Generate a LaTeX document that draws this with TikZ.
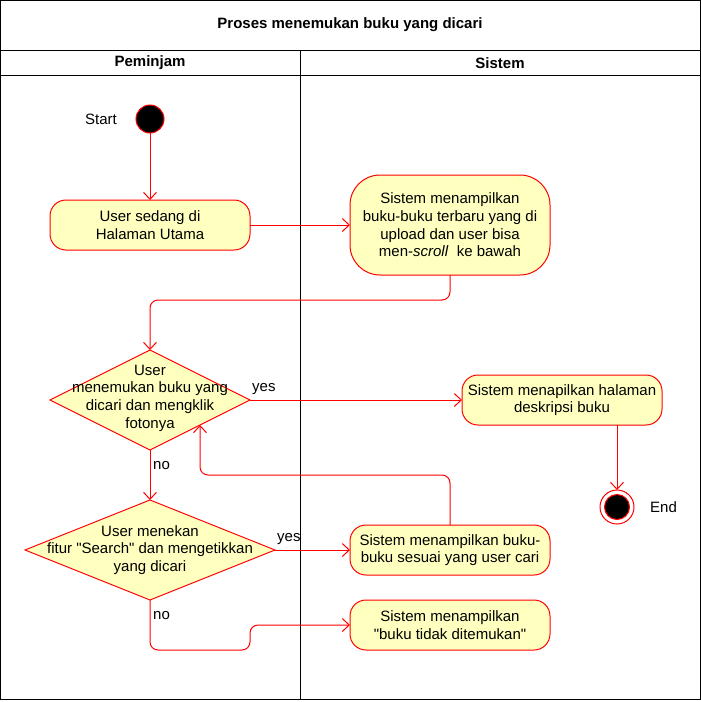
\documentclass[tikz,border=0pt]{standalone}
\usepackage{fontspec}
\setmainfont{Liberation Sans}[Ligatures=TeXOff]
\usetikzlibrary{arrows.meta,shapes.geometric,calc}
\definecolor{actfill}{HTML}{FFFFC0}
\definecolor{actred}{HTML}{FF0000}
\newcommand\nodefont{\fontsize{15}{17.7}\selectfont}
\begin{document}
\begin{tikzpicture}[x=1pt,y=-1pt,
  frame/.style={draw=black,line width=1pt},
  act/.style={draw=actred,fill=actfill,line width=1pt,rounded corners=16pt,align=center,font=\nodefont,inner sep=0pt,outer sep=0pt,minimum width=200pt,minimum height=50pt},
  dec/.style={diamond,draw=actred,fill=actfill,line width=1pt,inner sep=0pt,outer sep=0pt,minimum height=100pt},
  dtext/.style={align=center,font=\nodefont,inner sep=0pt},
  lbl/.style={font=\nodefont,inner sep=0pt},
  conn/.style={draw=actred,line width=1pt,rounded corners=8pt,-{Straight Barb[length=7pt,width=13pt]}},
  startc/.style={circle,draw=actred,fill=black,line width=1pt,minimum size=28pt,inner sep=0pt,outer sep=0pt},
  endo/.style={circle,draw=actred,fill=white,line width=1pt,minimum size=34pt,inner sep=0pt,outer sep=0pt},
  endi/.style={circle,draw=actred,fill=black,line width=1pt,minimum size=25pt,inner sep=0pt,outer sep=0pt}]
\useasboundingbox (0,0) rectangle (701,702);
% frame and lanes
\draw[frame] (0.5,0.5) rectangle (700.5,699.5);
\draw[frame] (0,50) -- (701,50);
\draw[frame] (0,75) -- (701,75);
\draw[frame] (300,50) -- (300,700);
\node[font=\nodefont\bfseries] (title) at (350,25) {Proses menemukan buku yang dicari};
\node[font=\nodefont\bfseries] (lane1) at (150,63) {Peminjam};
\node[font=\nodefont\bfseries] (lane2) at (500,63) {Sistem};
% nodes
\node[startc] (start) at (150,119) {};
\node[lbl,anchor=east] (startlbl) at (117,119) {Start};
\node[act] (a1) at (150,225) {User sedang di\\Halaman Utama};
\node[act,minimum height=100pt,rounded corners=30pt] (a2) at (450,225) {Sistem menampilkan\\buku-buku terbaru yang di\\upload dan user bisa\\men-\textit{scroll}\ \ ke bawah};
\node[dec,minimum width=200pt] (d1) at (150,400) {};
\node[dtext] (d1t) at (150,398) {User\\menemukan buku yang\\dicari dan mengklik\\fotonya};
\node[act] (a3) at (562,400) {Sistem menapilkan halaman\\deskripsi buku};
\node[endo] (endn) at (617,507) {};
\node[endi] (endc) at (617,507) {};
\node[lbl,anchor=west] (endlbl) at (650,507) {End};
\node[dec,minimum width=250pt] (d2) at (150,550) {};
\node[dtext] (d2t) at (150,550) {User menekan\\fitur "Search" dan mengetikkan\\yang dicari};
\node[act] (a4) at (450,550) {Sistem menampilkan buku-\\buku sesuai yang user cari};
\node[act] (a5) at (450,625) {Sistem menampilkan\\"buku tidak ditemukan"};
\coordinate (d1se) at ($(d1.south)!0.5!(d1.east)$);
% connectors
\draw[conn] (start) -- (a1);
\draw[conn] (a1) -- (a2);
\draw[conn] (a2.south) -- ++(0,25) -| (d1.north);
\draw[conn] (d1.east) -- (a3.west);
\node[lbl,anchor=south west] (yes1) at (252,395) {yes};
\draw[conn] (a3.south -| endn) -- (endn.north);
\draw[conn] (d1.south) -- (d2.north);
\node[lbl,anchor=west] (no1) at (153,466) {no};
\draw[conn] (d2.east) -- (a4.west);
\node[lbl,anchor=south west] (yes2) at (277,545) {yes};
\draw[conn] (a4.north) -- ++(0,-50) -| (d1se);
\draw[conn] (d2.south) |- ($(d2.south)+(100,50)$) |- (a5.west);
\node[lbl,anchor=west] (no2) at (153,616) {no};
\end{tikzpicture}
\end{document}
